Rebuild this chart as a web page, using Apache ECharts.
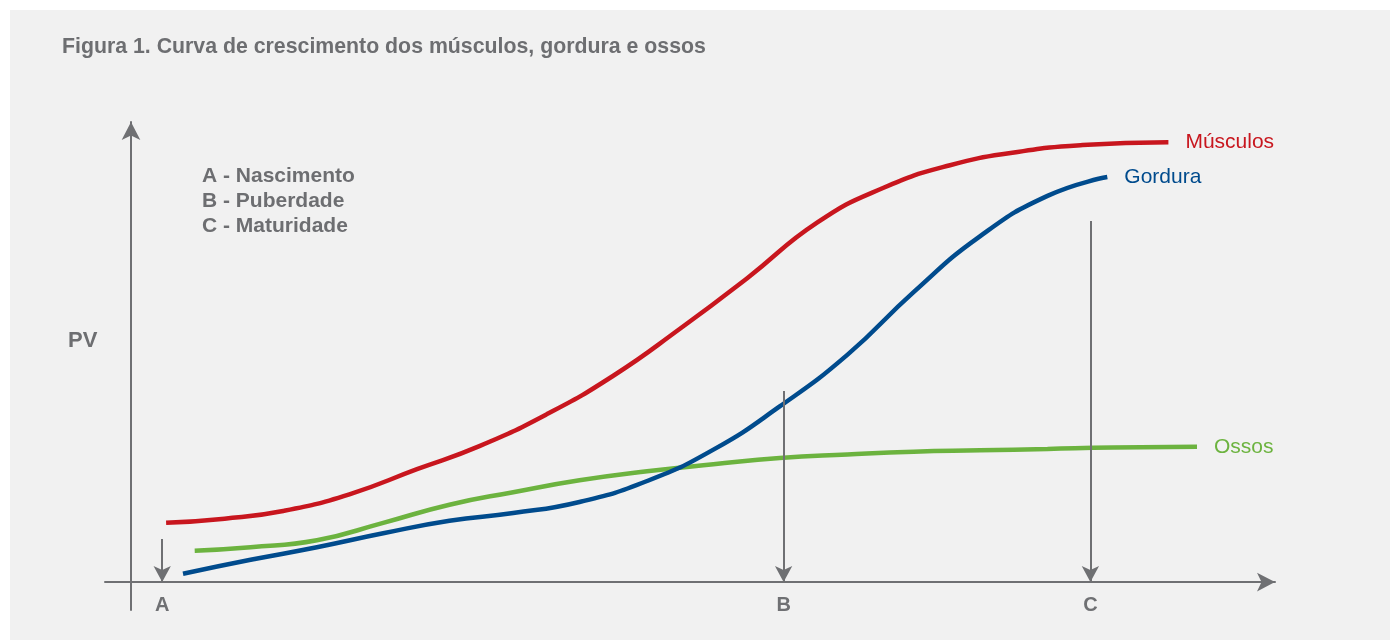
<!DOCTYPE html>
<html>
<head>
<meta charset="utf-8">
<script src="https://cdn.jsdelivr.net/npm/echarts@6/dist/echarts.min.js"></script>
<style>
  html, body { margin: 0; padding: 0; background: #fff; }
  #chart { position: absolute; left: 10px; top: 10px; width: 1380px; height: 630px; background: #f1f1f1; }
</style>
</head>
<body>
<div id="chart"></div>
<script>
// curvas (x = idade relativa, y = PV relativo)
const musculosX = [2.7, 7.2, 11.7, 16.8, 22.0, 26.8, 32.0, 37.1, 42.2, 47.4, 52.8, 57.8, 63.0, 68.2, 73.2, 79.8];
const musculosY = [8.5, 9.1, 10.2, 12.6, 16.2, 19.5, 24.1, 29.6, 36.3, 43.6, 51.6, 56.5, 59.8, 61.7, 62.7, 63.1];

const gorduraX = [4.0, 9.2, 14.3, 19.4, 24.5, 29.4, 34.5, 39.7, 44.8, 49.9, 55.1, 60.2, 65.3, 70.5, 75.1];
const gorduraY = [1.2, 3.2, 5.0, 7.0, 8.8, 9.9, 11.5, 14.5, 19.0, 25.2, 32.6, 41.6, 49.6, 55.4, 58.1];

const ossosX = [4.9, 9.2, 14.3, 19.4, 24.5, 29.4, 34.5, 39.7, 44.8, 49.9, 55.1, 60.2, 65.3, 70.5, 75.5, 82.0];
const ossosY = [4.5, 5.0, 6.0, 8.5, 11.1, 12.9, 14.6, 15.9, 16.9, 17.8, 18.3, 18.7, 18.9, 19.1, 19.3, 19.4];

// marcos A, B, C
const marcoNomes = ['A', 'B', 'C'];
const marcoX = [2.4, 50.2, 73.8];
const marcoTopo = [6.2, 27.4, 51.8];

const legendaMarcos = ['A - Nascimento', 'B - Puberdade', 'C - Maturidade'];

const GREY = '#6f7073';
const pair = (xs, ys) => xs.map((x, i) => [x, ys[i]]);

const chart = echarts.init(document.getElementById('chart'));

const curve = (name, xs, ys, color) => ({
  name,
  type: 'line',
  data: pair(xs, ys),
  smooth: 0.5,
  symbol: 'none',
  lineStyle: { color, width: 4.5, cap: 'butt' },
  itemStyle: { color },
  endLabel: {
    show: true,
    formatter: name,
    color,
    fontFamily: 'Liberation Sans',
    fontSize: 21,
    distance: 17,
  },
  z: 2,
});

chart.setOption({
  backgroundColor: 'transparent',
  animation: false,
  title: [
    {
      text: 'Figura 1. Curva de crescimento dos músculos, gordura e ossos',
      left: 52, top: 26, padding: 0,
      textStyle: { color: '#6d6e71', fontFamily: 'Liberation Sans', fontWeight: 'bold', fontSize: 21.3, lineHeight: 22 },
    },
    {
      text: legendaMarcos.join('\n'),
      left: 192, top: 154, padding: 0,
      textStyle: { color: '#6d6e71', fontFamily: 'Liberation Sans', fontWeight: 'bold', fontSize: 21, lineHeight: 25 },
    },
    {
      text: 'PV',
      left: 58, top: 319, padding: 0,
      textStyle: { color: '#6d6e71', fontFamily: 'Liberation Sans', fontWeight: 'bold', fontSize: 22, lineHeight: 24 },
    },
  ],
  grid: { left: 95, right: 115, top: 112, bottom: 30 },
  xAxis: {
    type: 'value', min: -2, max: 88,
    axisLine: { show: true, onZero: true, symbol: ['none', 'arrow'], symbolSize: [14, 18], lineStyle: { color: GREY, width: 2 } },
    axisTick: { show: false }, axisLabel: { show: false }, splitLine: { show: false },
  },
  yAxis: {
    type: 'value', min: -4, max: 66,
    axisLine: { show: true, onZero: true, symbol: ['none', 'arrow'], symbolSize: [14, 18], lineStyle: { color: GREY, width: 2 } },
    axisTick: { show: false }, axisLabel: { show: false }, splitLine: { show: false },
  },
  series: [
    curve('Músculos', musculosX, musculosY, '#c8161e'),
    curve('Ossos', ossosX, ossosY, '#6cb33f'),
    curve('Gordura', gorduraX, gorduraY, '#004b8d'),
    {
      name: 'marcos',
      type: 'line',
      data: [],
      z: 5,
      markLine: {
        silent: true,
        symbol: ['none', 'arrow'],
        symbolSize: [13, 16],
        lineStyle: { color: GREY, width: 2, type: 'solid' },
        label: {
          show: true, position: 'end', distance: 13,
          color: GREY, fontFamily: 'Liberation Sans', fontWeight: 'bold', fontSize: 20,
          formatter: p => p.name,
        },
        data: marcoNomes.map((n, i) => [
          { name: n, coord: [marcoX[i], marcoTopo[i]] },
          { coord: [marcoX[i], 0] },
        ]),
      },
    },
  ],
});
</script>
</body>
</html>
